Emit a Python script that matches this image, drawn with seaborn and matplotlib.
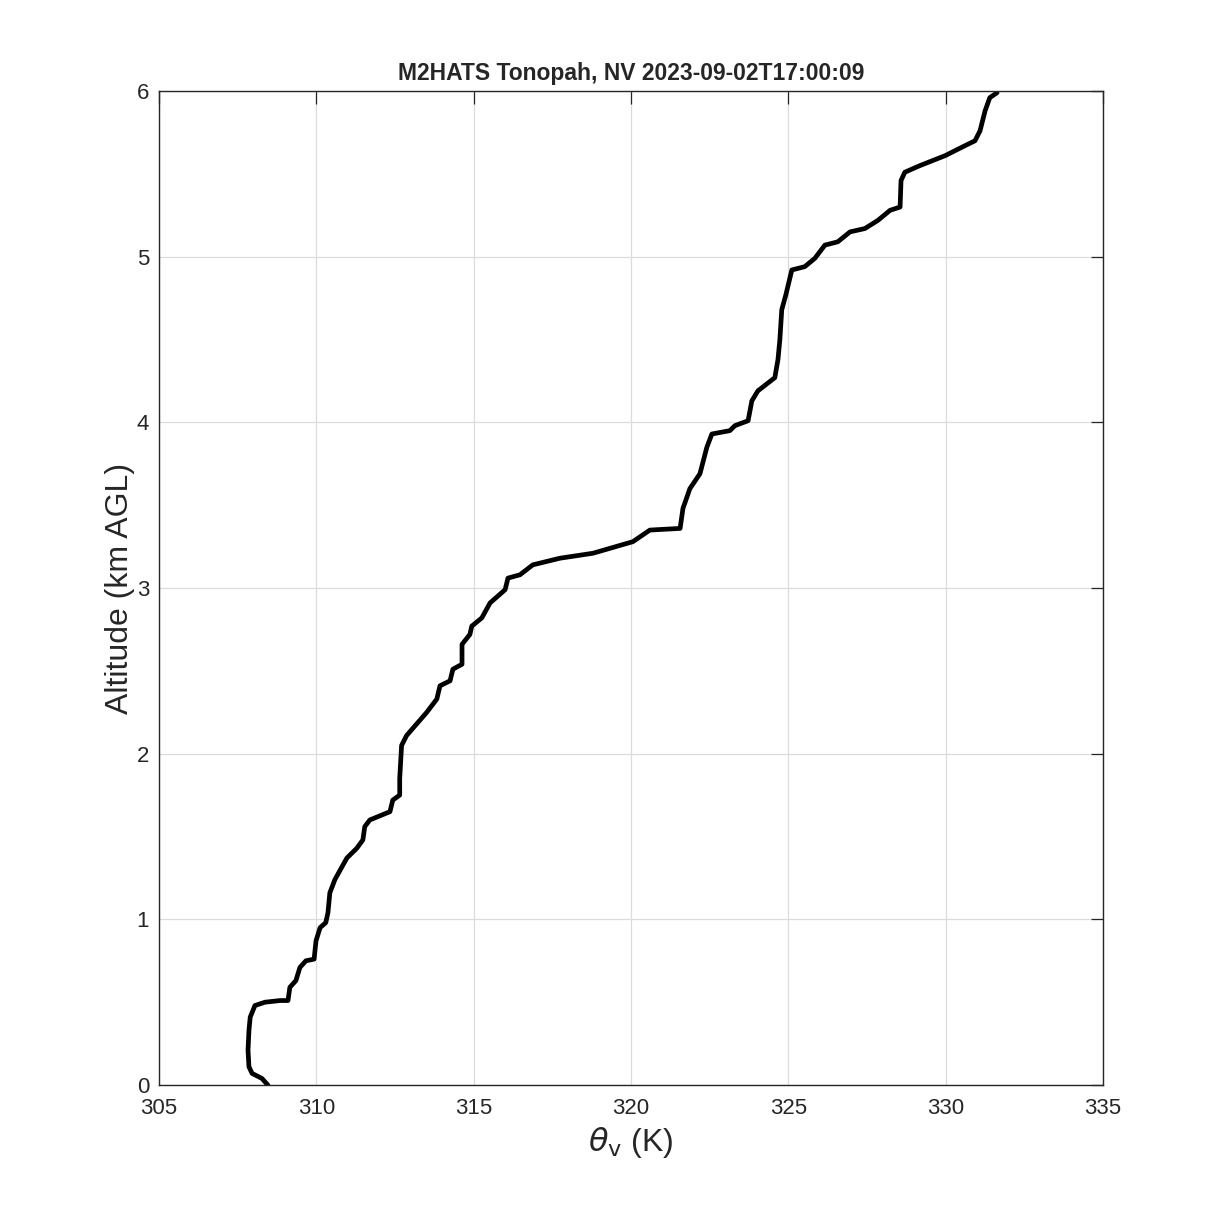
import matplotlib
matplotlib.use("Agg")
import matplotlib.pyplot as plt
import seaborn as sns
import pandas as pd

theta_v = [308.46, 308.27, 307.96, 307.86, 307.83, 307.86, 307.90, 308.05, 308.37,
           308.85, 309.10, 309.16, 309.35, 309.48, 309.67, 309.93, 309.99, 310.12,
           310.30, 310.37, 310.43, 310.59, 310.97, 311.29, 311.48, 311.54, 311.70,
           312.34, 312.43, 312.65, 312.65, 312.71, 312.87, 313.51, 313.83, 313.93,
           314.25, 314.34, 314.63, 314.63, 314.88, 314.94, 315.26, 315.52, 316.00,
           316.09, 316.47, 316.88, 317.74, 318.79, 320.06, 320.60, 321.56, 321.65,
           321.87, 322.19, 322.41, 322.57, 323.14, 323.30, 323.72, 323.84, 324.03,
           324.57, 324.67, 324.73, 324.79, 324.92, 325.11, 325.52, 325.84, 326.16,
           326.57, 326.96, 327.43, 327.85, 328.23, 328.55, 328.58, 328.70, 329.18,
           329.98, 330.61, 330.93, 331.09, 331.25, 331.40, 331.63]
alt_km = [0.00, 0.04, 0.07, 0.11, 0.21, 0.33, 0.41, 0.48, 0.50,
          0.51, 0.51, 0.59, 0.63, 0.71, 0.75, 0.76, 0.87, 0.95,
          0.98, 1.04, 1.16, 1.24, 1.37, 1.43, 1.48, 1.56, 1.60,
          1.65, 1.72, 1.75, 1.85, 2.05, 2.11, 2.25, 2.33, 2.41,
          2.44, 2.51, 2.54, 2.66, 2.72, 2.77, 2.82, 2.91, 2.99,
          3.06, 3.08, 3.14, 3.18, 3.21, 3.28, 3.35, 3.36, 3.48,
          3.60, 3.69, 3.85, 3.93, 3.95, 3.98, 4.01, 4.13, 4.19,
          4.27, 4.38, 4.50, 4.68, 4.77, 4.92, 4.94, 4.99, 5.07,
          5.09, 5.15, 5.17, 5.22, 5.28, 5.30, 5.46, 5.51, 5.55,
          5.61, 5.67, 5.70, 5.76, 5.88, 5.96, 5.99]

x_ticks = [305, 310, 315, 320, 325, 330, 335]
y_ticks = [0, 1, 2, 3, 4, 5, 6]

df = pd.DataFrame({"theta_v": theta_v, "alt": alt_km})

sns.set_style("white")
plt.rcParams["font.family"] = ["Liberation Sans", "DejaVu Sans"]

fig = plt.figure(figsize=(12.19, 12.19), dpi=100)
ax = fig.add_axes([0.1304, 0.1099, 0.7745, 0.8154])

sns.lineplot(data=df, x="theta_v", y="alt", sort=False, estimator=None,
             color="black", linewidth=3.4, ax=ax)

ax.set_xlim(305, 335)
ax.set_ylim(0, 6)
ax.set_xticks(x_ticks)
ax.set_yticks(y_ticks)
ax.grid(True, color="#dcdcdc", linewidth=0.9)
ax.tick_params(direction="in", length=9, width=0.9, labelsize=16,
               top=True, right=True, colors="#262626")
ax.tick_params(axis="x", pad=9)
ax.tick_params(axis="y", pad=7)
for s in ax.spines.values():
    s.set_color("#262626")
    s.set_linewidth(1.0)

ax.set_xlabel(r"$\theta_{\mathrm{v}}$ (K)", fontsize=23, color="#262626",
              labelpad=5)
ax.set_ylabel("Altitude (km AGL)", fontsize=23, color="#262626", labelpad=1)
ax.set_title("M2HATS Tonopah, NV 2023-09-02T17:00:09", fontsize=16.5,
             fontweight="bold", pad=8)

fig.savefig("out.png", dpi=100)
